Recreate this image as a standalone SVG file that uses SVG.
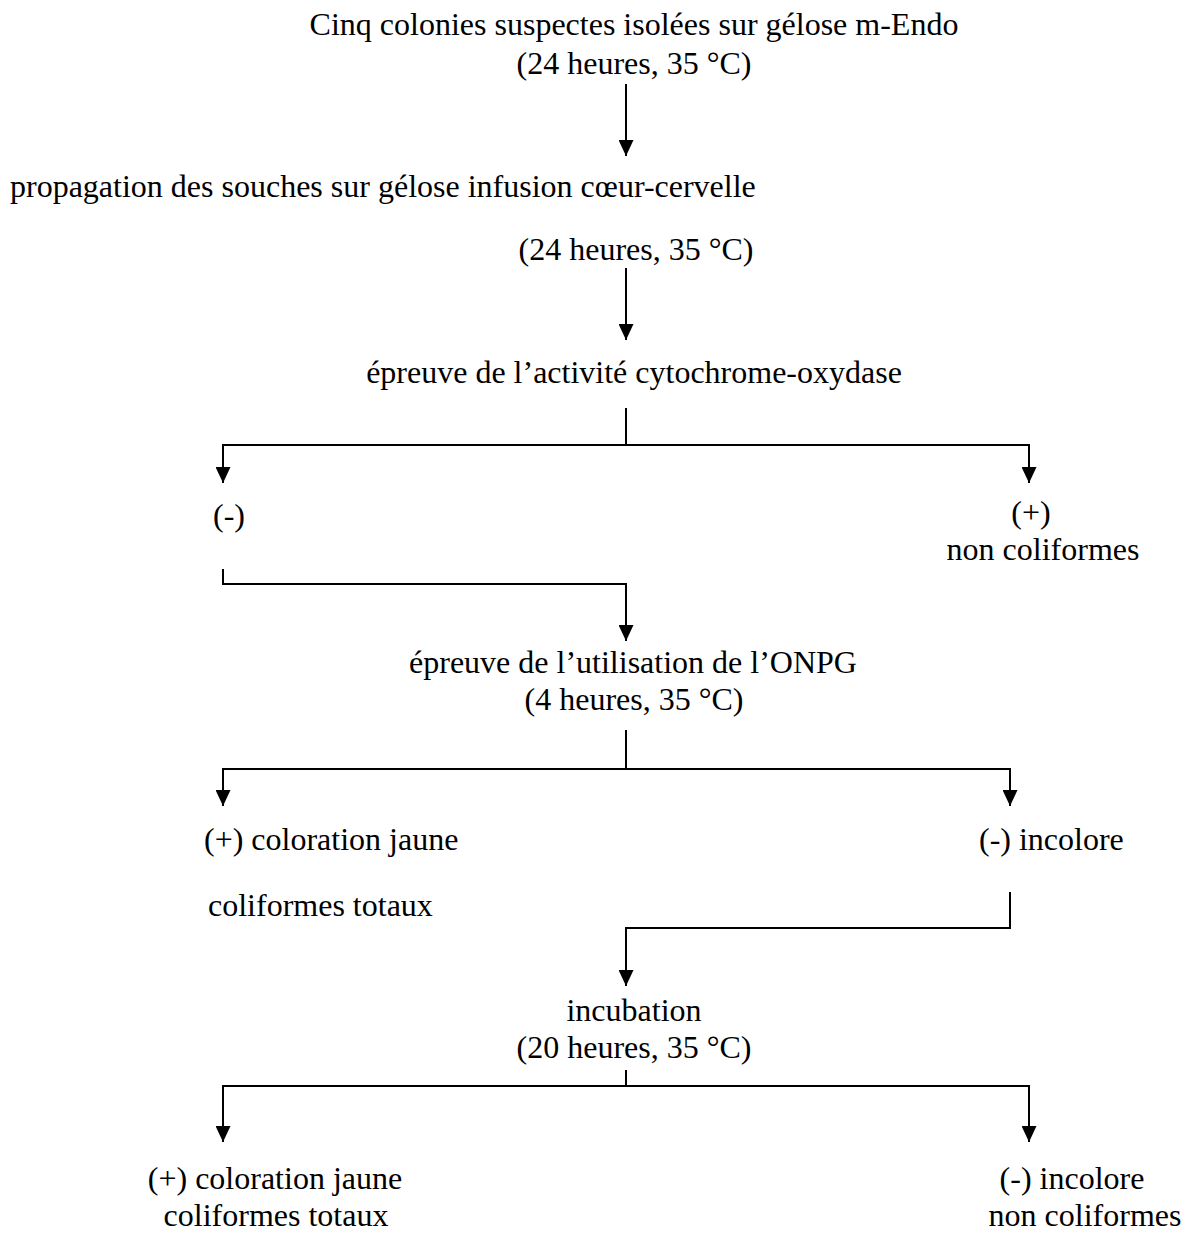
<svg xmlns="http://www.w3.org/2000/svg" width="1187" height="1233" viewBox="0 0 1187 1233">
<style>
text{font-family:"Liberation Serif","Times New Roman",serif;font-size:32px;fill:#000}
.c{text-anchor:middle}
.ln{fill:none;stroke:#000;stroke-width:2}
</style>
<defs>
<marker id="ah" viewBox="0 0 16 15" refX="16" refY="7.5" markerWidth="16" markerHeight="15" markerUnits="userSpaceOnUse" orient="auto">
<path d="M0,0 L16,7.5 L0,15 z" fill="#000"/>
</marker>
</defs>
<rect width="1187" height="1233" fill="#fff"/>
<g id="n1"><text class="c" x="634" y="35">Cinq colonies suspectes isolées sur gélose m-Endo</text><text class="c" x="634" y="74">(24 heures, 35 °C)</text></g>
<g id="n2"><text x="10" y="197">propagation des souches sur gélose infusion cœur-cervelle</text><text class="c" x="636" y="260">(24 heures, 35 °C)</text></g>
<g id="n3"><text class="c" x="634" y="383">épreuve de l’activité cytochrome-oxydase</text></g>
<g id="n4"><text x="213" y="526">(-)</text></g>
<g id="n5"><text class="c" x="1031" y="523">(+)</text><text class="c" x="1043" y="560">non coliformes</text></g>
<g id="n6"><text class="c" x="633" y="673">épreuve de l’utilisation de l’ONPG</text><text class="c" x="634" y="710">(4 heures, 35 °C)</text></g>
<g id="n7"><text x="204" y="850">(+) coloration jaune</text><text x="208" y="916">coliformes totaux</text></g>
<g id="n8"><text x="979" y="850">(-) incolore</text></g>
<g id="n9"><text class="c" x="634" y="1021">incubation</text><text class="c" x="634" y="1058">(20 heures, 35 °C)</text></g>
<g id="n10"><text class="c" x="275" y="1189">(+) coloration jaune</text><text class="c" x="276" y="1226">coliformes totaux</text></g>
<g id="n11"><text class="c" x="1072" y="1189">(-) incolore</text><text class="c" x="1085" y="1226">non coliformes</text></g>
<g id="connectors">
<path class="ln" d="M626,84 V156" marker-end="url(#ah)"/>
<path class="ln" d="M626,268 V340" marker-end="url(#ah)"/>
<path class="ln" d="M626,408 V445"/>
<path class="ln" d="M626,445 H223 V483" marker-end="url(#ah)"/>
<path class="ln" d="M626,445 H1029 V483" marker-end="url(#ah)"/>
<path class="ln" d="M223,569 V584 H626 V641" marker-end="url(#ah)"/>
<path class="ln" d="M626,730 V769"/>
<path class="ln" d="M626,769 H223 V806" marker-end="url(#ah)"/>
<path class="ln" d="M626,769 H1010 V806" marker-end="url(#ah)"/>
<path class="ln" d="M1010,892 V928 H626 V986" marker-end="url(#ah)"/>
<path class="ln" d="M626,1070 V1086"/>
<path class="ln" d="M626,1086 H223 V1142" marker-end="url(#ah)"/>
<path class="ln" d="M626,1086 H1029 V1142" marker-end="url(#ah)"/>
</g>
</svg>
